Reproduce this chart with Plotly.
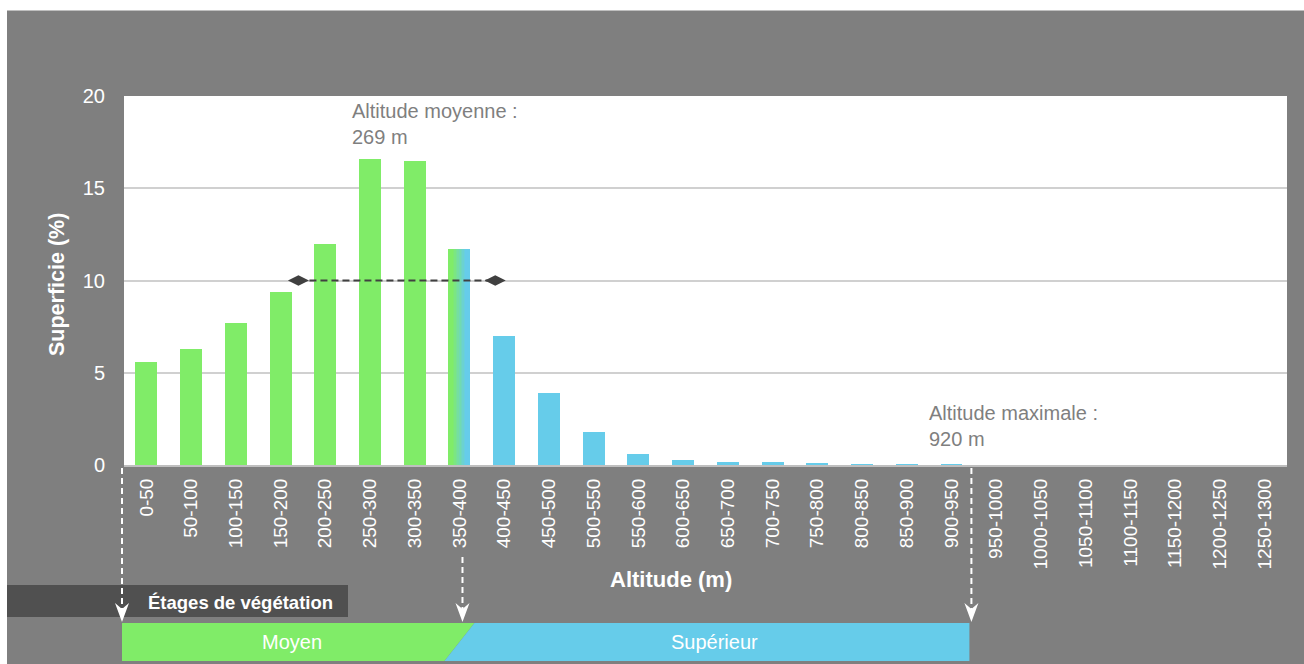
import plotly.graph_objects as go

# ---- data -------------------------------------------------------------
BIN_WIDTH_M = 50
ALT_BINS = ["0-50", "50-100", "100-150", "150-200", "200-250", "250-300",
            "300-350", "350-400", "400-450", "450-500", "500-550", "550-600",
            "600-650", "650-700", "700-750", "750-800", "800-850", "850-900",
            "900-950", "950-1000", "1000-1050", "1050-1100", "1100-1150",
            "1150-1200", "1200-1250", "1250-1300"]
SURFACE_PCT = [5.6, 6.3, 7.7, 9.4, 12.0, 16.6, 16.5, 11.7, 7.0, 3.9, 1.8,
               0.6, 0.25, 0.16, 0.16, 0.1, 0.05, 0.04, 0.03,
               0, 0, 0, 0, 0, 0, 0]
Y_TICKS = [0, 5, 10, 15, 20]

MEAN_ALT_M = 269
MAX_ALT_M = 920
SPREAD_M = [195, 415]          # dashed range drawn at SPREAD_LEVEL
SPREAD_LEVEL = 10

STAGE_NAMES = ["Moyen", "Supérieur"]
STAGE_LIMITS_M = [0, 375, 945]

# ---- style ------------------------------------------------------------
GREEN = "#80EC68"
BLUE = "#66CCEA"
BG = "#7F7F7F"
DARK = "#505050"
FONT = "Liberation Sans, Arial, sans-serif"

W_FIG, H_FIG = 1304, 664
PL, PR, PT, PB = 124, 1287, 96, 465
TOTAL_M = BIN_WIDTH_M * len(ALT_BINS)


def fx(p):
    return (p - PL) / (PR - PL)


def fy(p):
    return (PB - p) / (PB - PT)


def alt_to_paper(a):
    return a / TOTAL_M


def alt_to_px(a):
    return PL + alt_to_paper(a) * (PR - PL)


def alt_to_idx(a):
    return a / BIN_WIDTH_M - 0.5


def hex_rgb(h):
    h = h.lstrip("#")
    return [int(h[i:i + 2], 16) for i in (0, 2, 4)]


def mix(c1, c2, t):
    a, b = hex_rgb(c1), hex_rgb(c2)
    return "rgb(%d,%d,%d)" % tuple(round(a[i] + (b[i] - a[i]) * t) for i in range(3))


# colour of each bin from the stage boundary
x_idx = list(range(len(ALT_BINS)))
boundary = STAGE_LIMITS_M[1]
bar_colors = []
split_bins = []
for i in x_idx:
    lo, hi = i * BIN_WIDTH_M, (i + 1) * BIN_WIDTH_M
    if hi <= boundary:
        bar_colors.append(GREEN)
    elif lo >= boundary:
        bar_colors.append(BLUE)
    else:
        bar_colors.append("rgba(0,0,0,0)")
        split_bins.append(i)

BAR_W = 0.49
fig = go.Figure()
fig.add_trace(go.Bar(x=x_idx, y=SURFACE_PCT, width=BAR_W,
                     marker=dict(color=bar_colors, line=dict(width=0)),
                     hoverinfo="x+y", showlegend=False))

# bins that straddle the stage boundary get a green-to-blue fill
N_SLICES = 14
for i in split_bins:
    xs, ys, ws, offs, cols = [], [], [], [], []
    for k in range(N_SLICES):
        t = (k + 0.5) / N_SLICES
        tt = min(max((t - 0.2) / 0.6, 0), 1)
        xs.append(i)
        ys.append(SURFACE_PCT[i])
        ws.append(BAR_W / N_SLICES * 1.15)
        offs.append(-BAR_W / 2 + k * BAR_W / N_SLICES)
        cols.append(mix(GREEN, BLUE, tt))
    ws[-1] = BAR_W / N_SLICES
    fig.add_trace(go.Bar(x=xs, y=ys, width=ws, offset=offs,
                         marker=dict(color=cols, line=dict(width=0)),
                         hoverinfo="skip", showlegend=False))

# dashed range with diamond ends
fig.add_trace(go.Scatter(
    x=[alt_to_idx(a) for a in SPREAD_M], y=[SPREAD_LEVEL] * 2,
    mode="lines+markers",
    line=dict(color="#404040", width=2, dash="7px,4px"),
    marker=dict(symbol="diamond-wide", size=15, color="#404040"),
    hoverinfo="skip", showlegend=False))

shapes = []


def rect_px(x0, y0, x1, y1, color, layer="above"):
    return dict(type="rect", xref="paper", yref="paper",
                x0=fx(x0), x1=fx(x1), y0=fy(y1), y1=fy(y0),
                fillcolor=color, line=dict(width=0), layer=layer)


def path_px(pts, color):
    d = "M " + " L ".join("%f,%f" % (fx(a), fy(b)) for a, b in pts) + " Z"
    return dict(type="path", xref="paper", yref="paper", path=d,
                fillcolor=color, line=dict(width=0), layer="above")


# white frame strips around the grey panel
shapes.append(rect_px(0, 0, W_FIG, 10.5, "white", "below"))
shapes.append(rect_px(0, 0, 7, H_FIG, "white", "below"))

# vegetation stage bands
BAND_TOP, BAND_BOT, SLANT = 623, 661, 15
x0p = alt_to_px(STAGE_LIMITS_M[0]) - 2
xbp = alt_to_px(STAGE_LIMITS_M[1])
x1p = alt_to_px(STAGE_LIMITS_M[2])
shapes.append(path_px([(x0p, BAND_TOP), (xbp + SLANT, BAND_TOP),
                       (xbp - SLANT, BAND_BOT), (x0p, BAND_BOT)], GREEN))
shapes.append(path_px([(xbp + SLANT, BAND_TOP), (x1p, BAND_TOP),
                       (x1p, BAND_BOT), (xbp - SLANT, BAND_BOT)], BLUE))

# stage header box
shapes.append(rect_px(7, 585, 348, 617, DARK))

# dashed arrows down to the stage limits
arrow_tops = [468, 557, 468]
arrow_shift = [-2, 3, 2]
for a, top, dx in zip(STAGE_LIMITS_M, arrow_tops, arrow_shift):
    xp = alt_to_px(a) + dx
    shapes.append(dict(type="line", xref="paper", yref="paper",
                       x0=fx(xp), x1=fx(xp), y0=fy(top), y1=fy(610),
                       line=dict(color="white", width=2, dash="6px,4px"),
                       layer="above"))
    shapes.append(path_px([(xp - 7, 603), (xp, 622), (xp + 7, 603),
                           (xp, 609)], "white"))

annotations = []


def text_px(x, y, text, size, color="white", bold=False, xanchor="center",
            yanchor="middle", angle=0, align="center"):
    annotations.append(dict(
        xref="paper", yref="paper", x=fx(x), y=fy(y), text=text,
        showarrow=False, xanchor=xanchor, yanchor=yanchor, textangle=angle,
        align=align,
        font=dict(family=FONT, size=size, color=color,
                  weight="bold" if bold else "normal")))


text_px(57, 285, "Superficie (%)", 21.5, bold=True, angle=-90)
text_px(671, 579, "Altitude (m)", 22, bold=True)
text_px(240, 602, "Étages de végétation", 18.5, bold=True)
for name, lo, hi in zip(STAGE_NAMES, STAGE_LIMITS_M[:-1], STAGE_LIMITS_M[1:]):
    text_px((alt_to_px(lo) + alt_to_px(hi)) / 2, 642, name, 20)

text_px(350, 98, "Altitude moyenne :<br>%d m" % MEAN_ALT_M, 20,
        color="#7F7F7F", xanchor="left", yanchor="top", align="left")
text_px(927, 400, "Altitude maximale :<br>%d m" % MAX_ALT_M, 20,
        color="#7F7F7F", xanchor="left", yanchor="top", align="left")

fig.update_layout(
    width=W_FIG, height=H_FIG,
    margin=dict(l=PL, r=W_FIG - PR, t=PT, b=H_FIG - PB),
    paper_bgcolor=BG, plot_bgcolor="white",
    barmode="overlay", bargap=0,
    font=dict(family=FONT, color="white"),
    shapes=shapes, annotations=annotations,
    xaxis=dict(range=[-0.5, len(ALT_BINS) - 0.5], tickmode="array",
               tickvals=x_idx, ticktext=ALT_BINS, tickangle=-90,
               tickfont=dict(size=19, color="white", family=FONT),
               ticks="outside", ticklen=4, tickcolor="rgba(0,0,0,0)",
               showgrid=False, zeroline=False,
               showline=True, linecolor="#BFBFBF", linewidth=2),
    yaxis=dict(range=[0, 20], tickmode="array", tickvals=Y_TICKS,
               tickfont=dict(size=20, color="white", family=FONT),
               ticks="outside", ticklen=14, tickcolor="rgba(0,0,0,0)",
               showgrid=True, gridcolor="#D0D0D0", gridwidth=1.5,
               zeroline=False, showline=False),
)

fig.write_html("out.html")
